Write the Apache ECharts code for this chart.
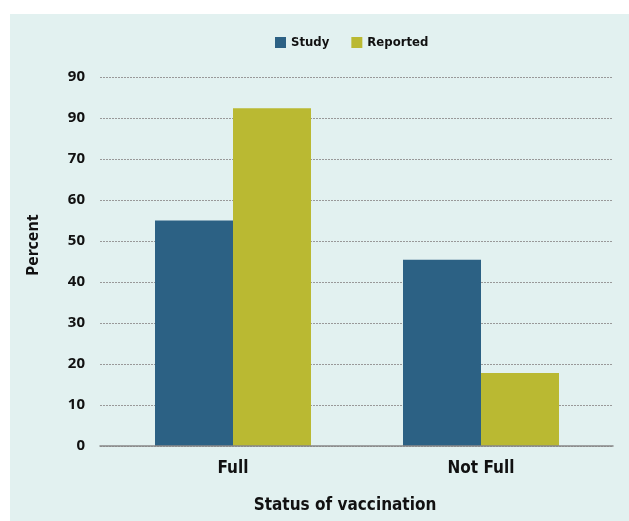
<!DOCTYPE html>
<html>
<head>
<meta charset="utf-8">
<style>
  html, body { margin: 0; padding: 0; background: #ffffff; }
  #chart { width: 629px; height: 521px; }
</style>
<script src="https://cdn.jsdelivr.net/npm/echarts@6/dist/echarts.min.js"></script>
</head>
<body>
<div id="chart"></div>
<script>
const categories = ["Full", "Not Full"];
const studyValues = [55, 45.4];
const reportedValues = [82.4, 17.8];
const seriesNames = ["Study", "Reported"];
const yTickValues = [0, 10, 20, 30, 40, 50, 60, 70, 80, 90];
const yTickLabels = ["0", "10", "20", "30", "40", "50", "60", "70", "90", "90"];
const xAxisTitle = "Status of vaccination";
const yAxisTitle = "Percent";

const condensed = '"Liberation Sans Narrow", "DejaVu Sans Condensed", "Liberation Sans", sans-serif';
const sans = '"Noto Sans", "DejaVu Sans", sans-serif';

const chart = echarts.init(document.getElementById('chart'), null, { renderer: 'canvas' });
chart.setOption({
  backgroundColor: '#ffffff',
  animation: false,
  graphic: [
    {
      type: 'rect', z: -10, silent: true,
      shape: { x: 10, y: 14, width: 619, height: 507 },
      style: { fill: '#e2f1f0' }
    },
    {
      type: 'text', x: 33, y: 245, rotation: Math.PI / 2, silent: true,
      style: {
        text: yAxisTitle, fontFamily: sans, fontWeight: 'bold', fontSize: 16,
        fill: '#111', align: 'center', verticalAlign: 'middle'
      }
    },
    {
      type: 'text', x: 345, y: 506, silent: true,
      style: {
        text: xAxisTitle, fontFamily: condensed, fontWeight: 'bold', fontSize: 17,
        fill: '#111', align: 'center', verticalAlign: 'middle'
      }
    }
  ],
  legend: {
    data: seriesNames,
    top: 31,
    left: 270,
    itemWidth: 11,
    itemHeight: 11,
    itemGap: 22,
    icon: 'rect',
    textStyle: { fontFamily: condensed, fontWeight: 'bold', fontSize: 13, color: '#111' }
  },
  grid: [
    { left: 100, right: 16, top: 77, bottom: 75, containLabel: false },
    { left: 109, right: 24, top: 77, bottom: 75, containLabel: false }
  ],
  xAxis: [
    {
      gridIndex: 0,
      type: 'category',
      data: categories,
      axisLine: { show: true, lineStyle: { color: '#888', width: 1.5 } },
      axisTick: { show: false },
      axisLabel: { show: false },
      z: 5
    },
    {
      gridIndex: 1,
      type: 'category',
      data: categories,
      axisLine: { show: false },
      axisTick: { show: false },
      axisLabel: { margin: 14, fontFamily: condensed, fontWeight: 'bold', fontSize: 17, color: '#111' }
    }
  ],
  yAxis: [
    {
      gridIndex: 0,
      type: 'value',
      min: 0,
      max: 90,
      interval: 10,
      axisLine: { show: false },
      axisTick: { show: false },
      axisLabel: {
        margin: 15,
        fontFamily: sans, fontWeight: 'bold', fontSize: 15, color: '#111',
        formatter: function (v) {
          const i = yTickValues.indexOf(Math.round(v));
          return i >= 0 ? yTickLabels[i] : '';
        }
      },
      splitLine: { show: true, lineStyle: { color: '#999999', type: [2, 1], width: 1 } }
    },
    {
      gridIndex: 1,
      type: 'value',
      min: 0,
      max: 90,
      interval: 10,
      axisLine: { show: false },
      axisTick: { show: false },
      axisLabel: { show: false },
      splitLine: { show: false }
    }
  ],
  series: [
    {
      name: seriesNames[0], type: 'bar', data: studyValues,
      xAxisIndex: 1, yAxisIndex: 1,
      itemStyle: { color: '#2c6184' },
      barWidth: 78, barGap: '0%'
    },
    {
      name: seriesNames[1], type: 'bar', data: reportedValues,
      xAxisIndex: 1, yAxisIndex: 1,
      itemStyle: { color: '#bab932' },
      barWidth: 78
    }
  ]
});
</script>
</body>
</html>
